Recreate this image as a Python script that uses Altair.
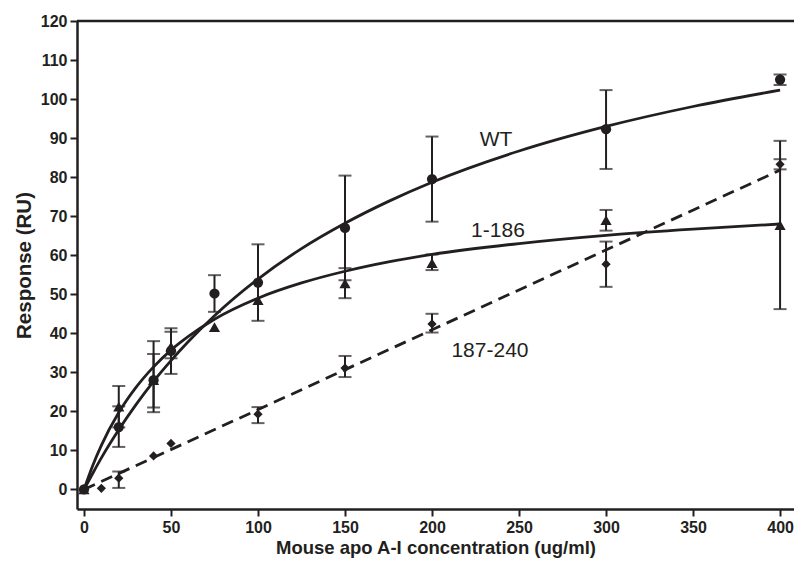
import altair as alt
import pandas as pd

# ---- data ----
wt_x = [0, 20, 40, 50, 75, 100, 150, 200, 300, 400]
wt_mean = [0, 16.0, 28.0, 35.5, 50.2, 53.0, 67.0, 79.5, 92.3, 105.0]
wt_lo = [0, 10.9, 19.8, 29.6, 45.5, 43.2, 53.6, 68.6, 82.1, 103.6]
wt_hi = [0, 21.3, 38.0, 41.3, 54.9, 62.8, 80.4, 90.4, 102.3, 106.3]

m186_x = [0, 20, 40, 50, 75, 100, 150, 200, 300, 400]
m186_mean = [0, 21.2, 28.0, 36.6, 41.6, 48.5, 52.8, 58.0, 69.0, 67.7]
m186_lo = [0, 15.9, 21.0, 33.6, 41.6, 48.5, 49.0, 56.2, 66.3, 46.2]
m186_hi = [0, 26.5, 34.7, 40.4, 41.6, 48.5, 56.7, 60.2, 71.6, 89.3]

m240_x = [0, 10, 20, 40, 50, 100, 150, 200, 300, 400]
m240_mean = [0, 0.3, 2.9, 8.6, 11.8, 19.3, 31.1, 42.4, 57.7, 83.3]
m240_lo = [0, 0.3, 0.4, 8.6, 11.8, 17.0, 28.8, 40.2, 51.9, 82.0]
m240_hi = [0, 0.3, 4.6, 8.6, 11.8, 21.1, 34.2, 45.0, 63.5, 84.6]

# fitted curves
curve_x = [0, 5, 10, 20, 30, 40, 50, 60, 75, 100, 125, 150, 175, 200, 250, 300, 350, 400]
wt_curve = [0, 4.1, 8.1, 15.3, 21.8, 27.7, 33.0, 37.9, 44.5, 53.9, 61.7, 68.2, 73.8, 78.7, 86.7, 93.0, 98.1, 102.3]
m186_curve = [0, 6.1, 11.3, 19.7, 26.2, 31.4, 35.7, 39.2, 43.6, 49.0, 52.9, 55.9, 58.3, 60.2, 63.0, 65.1, 66.7, 68.0]
dash_x = [0, 400]
dash_curve = [0, 81.8]

label_text = ["WT", "1-186", "187-240"]
label_x = [236.8, 237.9, 233.3]
label_y = [89.5, 66.1, 35.5]

x_ticks = [0, 50, 100, 150, 200, 250, 300, 350, 400]
y_ticks = [0, 10, 20, 30, 40, 50, 60, 70, 80, 90, 100, 110, 120]

INK = "#231f20"
FONT = "Liberation Sans"

xscale = alt.Scale(domain=[-4, 408], nice=False, zero=False)
yscale = alt.Scale(domain=[-5, 120], nice=False, zero=False)

xaxis = alt.Axis(values=x_ticks, title="Mouse apo A-I concentration (ug/ml)", grid=False,
                 domainColor=INK, domainWidth=2.5, tickColor=INK, tickWidth=2, tickSize=7,
                 labelFont=FONT, labelFontSize=16, labelFontWeight="bold", labelColor=INK,
                 labelPadding=3, titleFont=FONT, titleFontSize=18.5, titleFontWeight="bold",
                 titleColor=INK, titlePadding=3)
yaxis = alt.Axis(values=y_ticks, title="Response (RU)", grid=False,
                 domainColor=INK, domainWidth=2.5, tickColor=INK, tickWidth=2, tickSize=7,
                 labelFont=FONT, labelFontSize=16, labelFontWeight="bold", labelColor=INK,
                 labelPadding=3, titleFont=FONT, titleFontSize=20.5, titleFontWeight="bold",
                 titleColor=INK, titlePadding=6)

def X(f="x"):
    return alt.X(f"{f}:Q", scale=xscale, axis=xaxis)

def Y(f="y"):
    return alt.Y(f"{f}:Q", scale=yscale, axis=yaxis)

series = [
    ("1-186", m186_x, m186_mean, m186_lo, m186_hi, "triangle-up", 125),
    ("187-240", m240_x, m240_mean, m240_lo, m240_hi, "diamond", 85),
    ("WT", wt_x, wt_mean, wt_lo, wt_hi, "circle", 105),
]

layers = []

# top frame line
top_df = pd.DataFrame({"y": [120]})
layers.append(alt.Chart(top_df).mark_rule(color=INK, strokeWidth=2.5).encode(y=Y()))

# curves
wt_df = pd.DataFrame({"x": curve_x, "y": wt_curve})
m186_df = pd.DataFrame({"x": curve_x, "y": m186_curve})
dash_df = pd.DataFrame({"x": dash_x, "y": dash_curve})
layers.append(alt.Chart(wt_df).mark_line(color=INK, strokeWidth=2.8, interpolate="monotone").encode(x=X(), y=Y()))
layers.append(alt.Chart(m186_df).mark_line(color=INK, strokeWidth=2.8, interpolate="monotone").encode(x=X(), y=Y()))
layers.append(alt.Chart(dash_df).mark_line(color=INK, strokeWidth=2.8, strokeDash=[12, 7]).encode(x=X(), y=Y()))

for name, xs, ms, los, his, shape, size in series:
    df = pd.DataFrame({"x": xs, "y": ms, "lo": los, "hi": his})
    err = df[df["hi"] > df["lo"]]
    layers.append(alt.Chart(err).mark_rule(color=INK, strokeWidth=2).encode(
        x=X(), y=Y("lo"), y2="hi:Q"))
    layers.append(alt.Chart(err).mark_tick(color=INK, orient="horizontal", size=13, thickness=2).encode(
        x=X(), y=Y("lo")))
    layers.append(alt.Chart(err).mark_tick(color=INK, orient="horizontal", size=13, thickness=2).encode(
        x=X(), y=Y("hi")))
    layers.append(alt.Chart(df).mark_point(shape=shape, size=size, filled=True, color=INK, opacity=1).encode(
        x=X(), y=Y()))

lab_df = pd.DataFrame({"x": label_x, "y": label_y, "t": label_text})
layers.append(alt.Chart(lab_df).mark_text(font=FONT, fontSize=21, color=INK).encode(
    x=X(), y=Y(), text="t:N"))

chart = alt.layer(*layers).properties(
    width=717, height=488,
    autosize=alt.AutoSizeParams(type="none"),
    padding={"left": 69, "top": 13, "right": 0, "bottom": 49},
).configure_view(strokeWidth=0).configure(background="white")

chart.save("out.html", embed_options={"renderer": "svg", "actions": False})
